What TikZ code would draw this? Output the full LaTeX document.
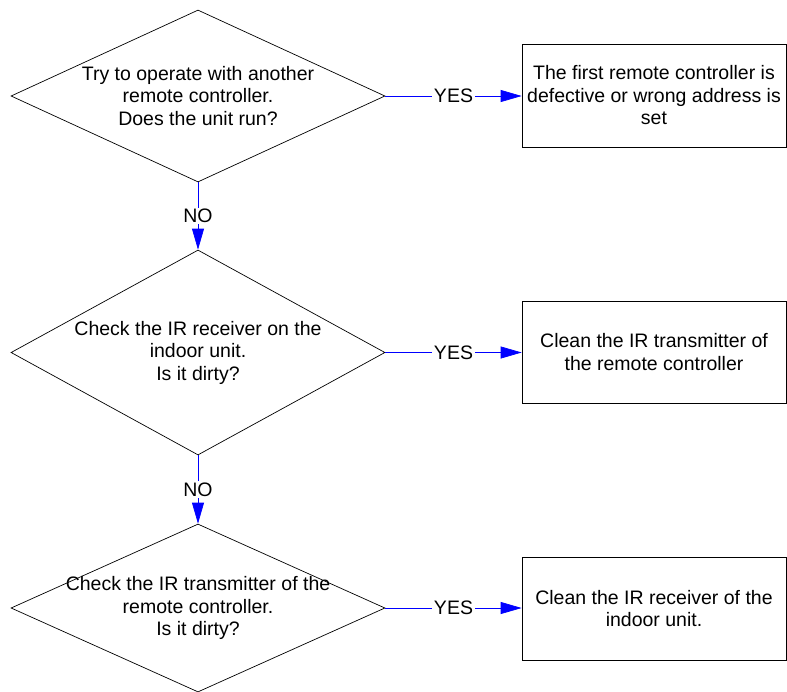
\documentclass[tikz,border=0pt]{standalone}
\usepackage{fontspec}
\setmainfont{Liberation Sans}
\usetikzlibrary{shapes.geometric,arrows.meta}
\definecolor{lineblue}{RGB}{0,0,255}
\begin{document}
\begin{tikzpicture}[x=1pt,y=-1pt,
  every node/.style={font=\fontsize{19.5}{22.5}\selectfont},
  dec/.style={draw=black,line width=0.7pt,shape=diamond,inner sep=0pt,minimum width=374pt},
  dtext/.style={align=center,inner sep=0pt},
  res/.style={draw=black,line width=0.7pt,rectangle,minimum width=264pt,align=center,inner sep=0pt},
  conn/.style={draw=lineblue,line width=0.7pt,-{Triangle[length=21pt,width=12pt]},color=lineblue},
  lbl/.style={fill=white,text=black,inner sep=1.5pt}]
\useasboundingbox (0,0) rectangle (787,691);
\node[dec,minimum height=172pt] (d1) at (198,96) {};
\node[dec,minimum height=205pt] (d2) at (198,352.5) {};
\node[dec,minimum height=168pt] (d3) at (198,608) {};
\node[dtext] (t1) at (d1.center) {Try to operate with another\\remote controller.\\Does the unit run?};
\node[dtext] (t2) at (d2.center) {Check the IR receiver on the\\indoor unit.\\Is it dirty?};
\node[dtext] (t3) at (d3.center) {Check the IR transmitter of the\\remote controller.\\Is it dirty?};
\node[res,minimum height=103pt] (b1) at (654,95.5) {The first remote controller is\\defective or wrong address is\\set};
\node[res,minimum height=102pt] (b2) at (654,352) {Clean the IR transmitter of\\the remote controller};
\node[res,minimum height=103pt] (b3) at (654,608.5) {Clean the IR receiver of the\\indoor unit.};
\draw[conn] (d1.east) -- node[lbl]{YES} (b1.west |- d1.east);
\draw[conn] (d2.east) -- node[lbl]{YES} (b2.west |- d2.east);
\draw[conn] (d3.east) -- node[lbl]{YES} (b3.west |- d3.east);
\draw[conn] (d1.south) -- node[lbl]{NO} (d2.north);
\draw[conn] (d2.south) -- node[lbl]{NO} (d3.north);
\end{tikzpicture}
\end{document}
